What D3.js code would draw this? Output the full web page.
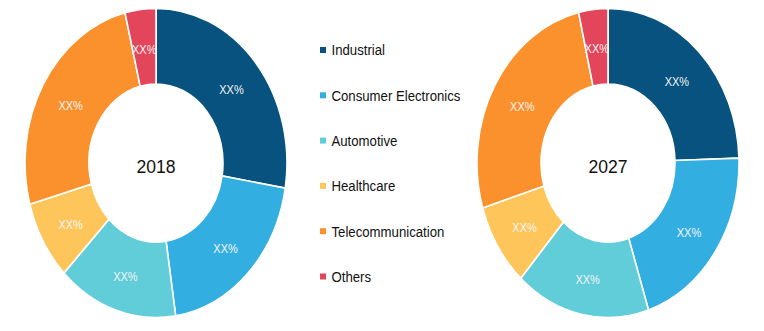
<!DOCTYPE html>
<html>
<head>
<meta charset="utf-8">
<script src="https://cdn.jsdelivr.net/npm/d3@7"></script>
<style>
  html, body { margin: 0; padding: 0; background: #ffffff; }
  svg { display: block; }
  .lbl { font-family: "Liberation Sans", Arial, sans-serif; }
</style>
</head>
<body>
<svg id="chart" width="764" height="331"></svg>
<script>
// Market share by end-use segment, two snapshot years
const categories = ["Industrial", "Consumer Electronics", "Automotive", "Healthcare", "Telecommunication", "Others"];
const colors = ["#07527e", "#33aee1", "#60cdd8", "#fec65a", "#fb912c", "#e3465a"];
const years = ["2018", "2027"];
const share2018 = [27.6, 20.0, 14.8, 8.3, 25.5, 3.8];
const share2027 = [24.5, 20.5, 16.6, 8.7, 26.1, 3.6];
const sliceLabels = ["XX%", "XX%", "XX%", "XX%", "XX%", "XX%"];

const svg = d3.select("#chart");
const color = d3.scaleOrdinal().domain(categories).range(colors);

const outerR = 131, innerR = 67, stretchY = 1.18;
const condense = 0.88; // horizontal squeeze for a condensed type look
const pie = d3.pie().sort(null).value(d => d.value);
const arc = d3.arc().innerRadius(innerR).outerRadius(outerR);

function donut(cx, cy, values, year) {
  const data = categories.map((c, i) => ({ name: c, value: values[i], label: sliceLabels[i] }));
  const arcs = pie(data);
  const g = svg.append("g").attr("transform", `translate(${cx},${cy})`);
  g.append("g")
    .attr("transform", `scale(1,${stretchY})`)
    .selectAll("path")
    .data(arcs)
    .enter().append("path")
    .attr("d", arc)
    .attr("fill", d => color(d.data.name))
    .attr("stroke", "#ffffff")
    .attr("stroke-width", 1.6)
    .attr("vector-effect", "non-scaling-stroke");
  g.selectAll("text.slice")
    .data(arcs)
    .enter().append("text")
    .attr("class", "slice lbl")
    .attr("transform", d => {
      const [x, y] = arc.centroid(d);
      return `translate(${x},${y * stretchY + 2}) scale(${condense},1)`;
    })
    .attr("dy", "0.36em")
    .attr("text-anchor", "middle")
    .attr("fill", "#f4f4f4")
    .style("font-size", "12.5px")
    .text(d => d.data.label);
  g.append("text")
    .attr("class", "lbl")
    .attr("transform", `translate(0,3) scale(0.95,1)`)
    .attr("dy", "0.36em")
    .attr("text-anchor", "middle")
    .attr("fill", "#111111")
    .style("font-size", "18.5px")
    .text(year);
}

donut(156, 163, share2018, years[0]);
donut(608, 163, share2027, years[1]);

// Legend
const legend = svg.append("g").attr("transform", "translate(320,50)");
const rowStep = 45.3;
const rows = legend.selectAll("g").data(categories).enter().append("g")
  .attr("transform", (d, i) => `translate(0,${i * rowStep})`);
rows.append("rect")
  .attr("x", 0).attr("y", -3).attr("width", 6).attr("height", 6)
  .attr("fill", d => color(d));
rows.append("text")
  .attr("class", "lbl")
  .attr("transform", `translate(11.5,0) scale(${condense},1)`)
  .attr("dy", "0.36em")
  .attr("fill", "#111111")
  .style("font-size", "15px")
  .text(d => d);
</script>
</body>
</html>
